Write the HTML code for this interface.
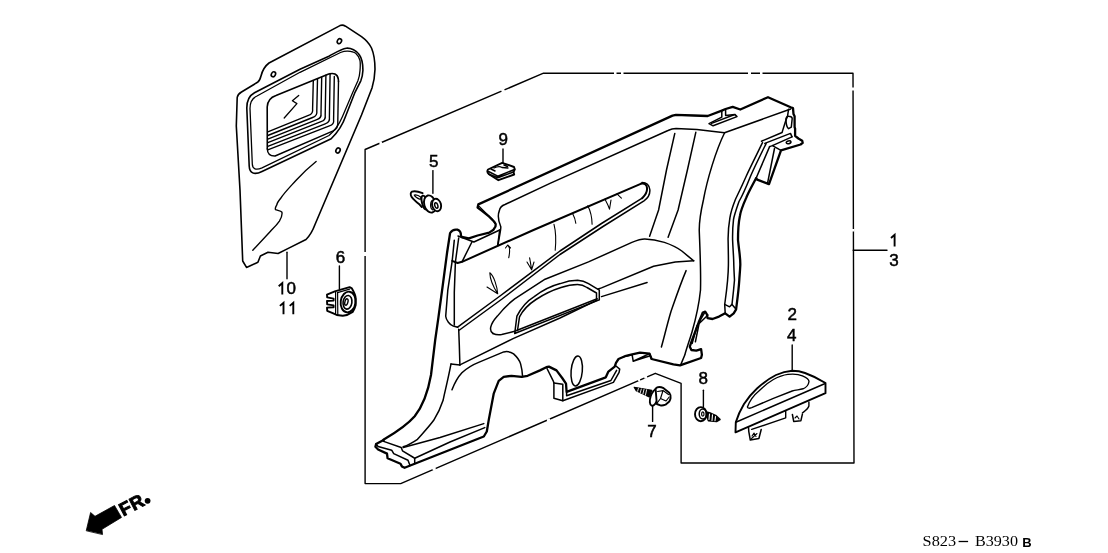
<!DOCTYPE html>
<html><head><meta charset="utf-8"><style>
html,body{margin:0;padding:0;background:#fff;width:1108px;height:553px;overflow:hidden}
svg{display:block;filter:grayscale(1)}
.t{font-family:"Liberation Sans",sans-serif;font-size:17px;fill:#000}
</style></head><body>
<svg width="1108" height="553" viewBox="0 0 1108 553">
<rect width="1108" height="553" fill="#fff"/>
<g fill="none" stroke="#000" stroke-width="1.4" stroke-linejoin="round" stroke-linecap="round">
<!-- FRAME -->
<path id="frame" d="M365.1,483.6 L365.1,149.5 L543.5,73.2 L853,73.2 L854,463 L681.1,463 L681.1,383.4 L655.3,373.3 L400.7,483.6 L365.1,483.6 Z"/>
<path d="M853.2,250.2 L887,250.2"/>
<g stroke="#fff" stroke-width="2.6" stroke-linecap="butt">
<path d="M379.5,143.6 L382,142.5 M501.5,91.2 L504.5,89.9"/>
<path d="M614,73.2 L616.5,73.2 M621,73.2 L623.5,73.2 M748,73.2 L751,73.2 M760,73.2 L762.5,73.2"/>
<path d="M853.2,87.5 L853.2,90.5 M853.2,229 L853.2,231.5 M365.1,252 L365.1,256"/>
<path d="M432.6,469.6 L435.6,468.3 M547,420.6 L550,419.3 M638,380.4 L640,379.5 M644.3,377.7 L647,376.5"/>
</g>
<!-- leaders -->
<path d="M287,252.2 L287,278.8"/>
<path d="M339.4,266 L339.4,289"/>
<path d="M432.9,170.6 L432.9,193.2"/>
<path d="M503,149 L503,163.4"/>
<path d="M652.6,405 L652.6,421.4"/>
<path d="M703.4,390.2 L703.4,406.5"/>
<path d="M792.2,345 L792.2,371"/>
</g>

<!-- TOP LEFT PANEL 10/11 -->
<g fill="none" stroke="#000" stroke-width="1.6" stroke-linejoin="round" stroke-linecap="round">
<path d="M241.5,92 L257.5,82.3 C259.5,81 260,80 261,76 C262.5,70 265,66 269,63 L340,25.6 C342,24.8 343.5,25 345.5,26.2 L361.5,36.7 C366,40 369.5,44 371.5,48 C374,54 375,62 375,69.2 C374.8,77 373.5,83 372,88 L361.5,115 L315,224.5 C313,230 310,235.5 306,239.5 L288.3,248.4 L278.1,253.5 L268,252.2 L260.4,256 L257.9,262.3 L246.5,267.4 L242.7,261 L240,190 L236.3,126 L237.2,97.5 C237.5,95 239,93.5 241.5,92 Z"/>
<ellipse cx="273.4" cy="74.3" rx="2" ry="2.6" transform="rotate(30 273.4 74.3)"/>
<ellipse cx="339.4" cy="41.2" rx="2" ry="2.6" transform="rotate(30 339.4 41.2)"/>
<ellipse cx="338" cy="150.5" rx="2" ry="2.6" transform="rotate(30 338 150.5)"/>
<!-- gasket -->
<path d="M246.8,108 C246.8,100.5 249.5,95.5 254.5,92.8 L300,69.2 L328.9,56.2 C335,53 341,49 346.3,48.2 C351,47.8 356.5,50.5 359.3,54.7 C362,58.5 363,64 362.9,70.6 C362.7,76 361.5,79 360.8,80.8 L355,92.3 L345.7,116 C343,124 338,132 331.2,138.8 L262,171.5 C254,175.5 249.5,173 249.2,166 Z"/>
<path d="M250,108.5 C250,102 252.5,98 257,96 L300,72.3 L340.5,52.5 C343,51.5 345.5,51 347.7,51.1 C351,51.3 354,52 355.7,53.3 C358,55.5 359.5,58 360,60.5 C360.5,64 360.3,67 360,70.6 C359.7,75 359,78 357.9,80.8 L352.8,92.3 L342.5,116.5 C339.5,123.5 335,130.5 329,135.5 L262,167.8 C256,170.5 252.5,169 252.3,164 Z" stroke-width="1.3"/>
<!-- window -->
<path d="M267.3,149 L267.2,107 C267.5,101 270,97.5 276,95.5 L328.7,74 C333.5,72.5 337.5,74 338.3,79 L338.5,81.5"/>
<path d="M267.8,131.9 L308.4,115.4 Q313.4,113.8 312.6,108.8 L313.3,80.8 M267.8,135.5 L312.6,117.5 Q317.6,115.9 316.8,110.9 L317.5,78.9 M267.8,139.1 L316.8,119.6 Q321.8,118.0 321.0,113.0 L321.7,77.1 M267.8,142.7 L321.0,121.7 Q326.0,120.1 325.2,115.1 L325.9,75.2 M267.8,146.3 L325.2,123.8 Q330.2,122.2 329.4,117.2 L330.1,73.4 M267.8,149.9 L329.4,125.9 Q334.4,124.3 333.6,119.3 L334.3,76.5 M267.3,149 Q267.5,156.2 275.1,156 L333.2,130.8 Q338.6,128.4 337.8,121.4 L338.5,81.5" stroke-width="1.4"/>
<path d="M298.7,95.4 L292.4,100.8 L296.9,103.6 L284.2,118" stroke-width="1.3"/>
<path d="M316.1,161.5 C308,168 300,176 295.9,180.5 C290,187 284,193 280.7,198.3 C278.5,201 277,203 276.9,204.6 C275.5,207 275,209 275.6,209.7 C277,210.5 281,210.5 281.9,212.2 C282.5,215 281,218.5 279.4,221.1 C276,226 273,228.5 270.5,231.2 L252.8,250.2" stroke-width="1.4"/>
</g>


<!-- MAIN PANEL -->
<g fill="none" stroke="#000" stroke-width="2.3" stroke-linejoin="round" stroke-linecap="round">
<path id="outer" d="M384.2,439.3 C395,433 408,424 414.7,416.3 C422,407 428,392 431,375 L435.2,340 L438.4,317.6 L442.8,285 L447.1,252.5 L450.1,233 C452,230 455,229.3 457.4,229.7 C459.6,230.4 461,233 461,235.5 L461.7,237 L468.9,238.4 L477.6,235.5 L489.2,232.6 L493.5,229.7 L495.5,226.5 L495.7,224 L494.3,221.8 L489.2,216.7 L482,210.9 L477.6,207.5 L478.3,204.4 L672.5,115.6 L676,114.8 L693.6,115.5 L707.7,116 L721.8,110.6 L725.6,109 L732.7,106.8 L740.3,109.5 L768,97.2 L790.7,107.2 L793,108.1 L793.5,114.1 L794.6,116.3 L794.6,127.1 L795.1,128.7 L795.1,135.8 L798.4,138.5 L802.2,140.7 L802.7,142.9 L800.6,144.5 L781,150.4 L769,184.1 L757.2,179.6 L756.2,178 C752,186 748,193 746.2,197.9 C743,205 740.5,212 739.9,216 C738,225 738,232 738,240 C739,250 740.5,258 740.3,265 C740,272 739.5,276 739.3,280 C738.5,292 737,302 736.1,309.3 L733.7,313.3 L729.6,316.6 L725.2,313.3 L719,316.6 L712.5,319 L707.6,318.2 L706.8,314.1 L705.2,311.7 L702.8,312.5 L701.1,316.6 L698.7,322.3 L691.4,341.8 L689.8,346.7 L691.4,350 L696.3,350.7 L701.1,349.1 L701.9,354.8 L701.1,358 L680,365.4 L673.4,364.4 L651.6,359 L649.5,353.6 L640,352.7 L631.1,354.6 L626.1,355.8 L618.5,359 L616,362.8 L614.7,366.6 L608.4,371.6 L605.8,377.3 L566.6,391.9 L566,383.7 L562.2,378 L556.5,370.4 L548.9,366.6 L546.3,367.2 L540,370.4 L527.6,375.8 L521.6,376.8 L511.6,375.8 L503.7,376.8 L498.7,380.8 L493.7,393.7 L488.8,419.6 L486.8,431.5 L483.8,436.5 L414.7,463.7 L404.6,467.8 L401.9,466.4 L400.5,463.7 L387.6,458.3 L387,453.6 L378.1,449.5 L375.4,446.8 L376.1,444.1 L382.2,440.7 L384.2,439.3 Z"/>
</g>
<g fill="none" stroke="#000" stroke-width="1.5" stroke-linejoin="round" stroke-linecap="round">
<!-- top flange inner line -->
<path d="M497.9,245.6 C499,238 501,230 500.8,226.8 C498,220 498,214 499.3,210.9 C500,207 502,205.5 505,204.5 L550,183.4 L668,130.5 C671,129 674,128.5 676,128.5 L696.9,129.6 L724.5,132.8 L790.7,109"/>
<path d="M788.6,109.2 L787.5,116.3 L785.4,121.7 L782.7,130.4 L782.1,132.5 L761.5,141.2"/>
<path d="M785.9,119 C786.5,117 787.5,116.2 788.6,116.3 C790.5,116.3 792,116.8 792.2,118.5 L791.3,127.1 L788.6,128.7 C787,127.5 786,124 785.9,119 Z"/>
<path d="M764.8,143.4 L790.5,133.4 L792,136.9"/>
<!-- slot top -->
<path d="M721.8,110.6 L721.8,117.1 L709,123.6 L713.1,125.8 L737,116.6 L734.8,114.4 L725.6,115.5 L725.6,109"/>
<path d="M711.5,123.4 L734,114.8"/>
<!-- verticals -->
<path d="M674.8,133.4 L666.5,170 L658.6,210 L649.6,236.2"/>
<path d="M695.8,132.3 L687.4,170 L678.1,210 L668.1,237.3"/>
<path d="M724.5,133 C716,150 707,180 703.4,200 C700,215 699,225 699.3,232 C700,250 701,270 700.5,290 C699,305 696,318 692,332 C689,342 686,350 684.9,354.8 L680.8,364.6"/>
<!-- strip -->
<path d="M762.5,142.7 C755,158 750,168 746.2,176.2 C741,188 737,196 735.3,199.7 C732,208 730.5,214 729.9,217.8 C728.5,226 728,233 728.1,240 C728.3,250 728.5,258 728.4,265 C728.3,280 726,295 724.7,304.4 L725.2,313.3"/>
<path d="M766.1,143.6 C758,160 753,170 749.8,178 C745,190 741,198 739,201.5 C736,210 734,216 733.5,219.6 C732.5,228 732.5,234 732.6,240 C733,250 733.8,258 733.8,265 C734,272 734.3,276 734.5,280 C733.5,292 732.5,300 732,304.4 L729.6,306.8 L724.7,304.4"/>
<path d="M732,304.4 L736.1,309.3"/>
<!-- bracket box -->
<path d="M769.6,146.6 L772.4,145.6 L781,150.4 M772.4,145.6 L792,136.9"/>
<path d="M774.5,148.5 L767.5,183.4"/>
<path d="M769.6,146.6 L756.2,178"/>
<ellipse cx="788.6" cy="142.3" rx="2.4" ry="1.4" transform="rotate(-15 788.6 142.3)"/>
</g>


<!-- left flange & bolster -->
<g fill="none" stroke="#000" stroke-width="1.5" stroke-linejoin="round" stroke-linecap="round">
<path d="M454.3,240.2 L452.2,260.9 L447.8,290.2 L445.7,316.3 C446,320 450,325 453.3,326.1 L457.6,327.2"/>
<path d="M458.7,238 L455.4,262 L454.3,292.4 L454.3,325"/>
<path d="M458.7,329.3 L459.3,345 L459.9,364.9"/>
<path d="M452.2,260.9 L457.6,263 L462,261.8 L533.5,230 L640.7,183.8 C644,182.5 647,184.5 647,188 C647.5,192 645,195.5 642.2,198.2" stroke-width="2"/>
<path d="M462,261.8 L471.9,242"/>
<path d="M479,206.2 L486.3,213.4 L492.1,218.8 L494.8,223.4" stroke-width="1.1"/>
<path d="M458,236 L473.9,242 L499.7,230"/>
<path d="M499.7,230 L497.7,245"/>
<!-- armrest lower double edge -->
<path d="M457.6,327.2 L500,296 L560,251 L601.5,223.5 L642.2,198.2"/>
<path d="M459.5,330 L502,299 L560,254.5 L603,226.5 L644,200.8 C648.5,197.8 650.2,193.5 649.8,189.5 C649.3,185.5 646.5,182.3 642,182.4"/>
<!-- creases -->
<path d="M507.7,245 C510,247 510,252 508.7,257.8 M505.5,248 L507.7,245 L510.5,248" stroke-width="1.1"/>
<path d="M529.6,257.8 C530.5,262 531,266 531.6,269.8 M527,262 L531.6,269.8 L534,262" stroke-width="1.1"/>
<path d="M489.8,272.8 C494,276 497,286 497.7,293.7 C494,288 490,280 489.8,272.8 M487,287 L497.7,293.7" stroke-width="1.1"/>
<path d="M554,224.3 C556,232 556,242 555.2,250.3" stroke-width="1.1"/>
<path d="M572.6,213.4 C574.5,217 575.5,220 575.8,223.2" stroke-width="1.1"/>
<path d="M587.8,205.8 C591,212 592,218 592.1,224.3" stroke-width="1.1"/>
<path d="M605,199.3 C607,203 608.5,206 609.5,209.1 M609.5,209.1 L611,200" stroke-width="1.1"/>
<path d="M617,193.9 L621.4,198.2" stroke-width="1.1"/>
<!-- lower bulge -->
<path d="M493,333.5 C489,331 489.5,325 497.4,316.1 C503,309 508,304 514.7,298.8 L545.1,279.2 L588.5,261.9 L631.9,242.4 C638,240 641,239 644.9,239.1 C652,239.3 658,240.5 664.4,242.4 C672,245 677,247.5 681.8,251 L693.7,260.8"/>
<path d="M693.7,260.8 L675.3,261.9 L653.6,266.2 L601.5,287.9 L598.2,289"/>
<path d="M493,333.5 C496,335 499,335 501.7,334.6 L514.7,331.3 L597.2,298.8"/>
<path d="M601.5,296.6 L647.1,282.5"/>
<path d="M514.7,333.5 L516.9,316.1 C521,308 527,301 534.2,296.6 C543,290 551,286 560.3,283.6 C566,281.5 572,280.3 577.6,280.3 C582,280.5 585,281.5 588.5,283.6 L599.3,290.1 L599.3,299.9 Z"/>
<path d="M517.5,330.5 L519.5,316.8 C523,310 529,304 536,299.5 C545,293.5 553,290 561,287.5 C567,285.5 572,284.5 577.5,284.5 C581,284.5 584,285.5 587,287.5 L596.5,293 L596.5,298.5"/>
<!-- lower region -->
<path d="M459.9,364.9 L513.6,338.4 L560,318 L597.2,300"/>
<path d="M451,363.9 L459.9,364.9"/>
<path d="M451,363.9 C448,380 444,395 443.2,400 C440,410 437,415 433.7,420.3 C428,428 422,434 417.5,439.3 C412,443 407,445.5 403.2,446.8"/>
<path d="M452,389.8 C455,382 458,377 461.9,372.8 C467,368 472,365 479.8,361.9 L503.7,351.9 C508,351 511,352 513.6,353.9 C517,357 519.5,360 520.6,363.9 C521.8,368 522.3,372 522.6,376.8"/>
<!-- foot -->
<path d="M384.2,439.3 L383.6,441.4 L401.2,447.5 L402.5,450.8 L412.7,457 L414.7,458.3 L414.7,463.7"/>
<path d="M376.1,444.1 L378.1,446.5 L391.7,450.2 L393.7,453.6 L408,460.3 L410,465.5"/>
<path d="M403.2,447.5 L440,437.5 L483.8,423.6"/>
<path d="M414.7,458.3 L450,442 L484.8,427.6"/>
<!-- bottom bracket -->
<path d="M547,368.5 L553.3,381.1 L553.9,383 L553.9,398.2 L562.8,400.8 L613.4,382.4 L619.1,372.3 L619.7,369.1 L616,366"/>
<path d="M553.9,383 L562.8,384.3 L562.8,400.8"/>
<path d="M566.6,391.9 L566.6,395.7 L610.9,380.5 L616.6,370.4"/>
<ellipse cx="576.7" cy="371" rx="5.6" ry="15" transform="rotate(5 576.7 371)"/>
<!-- lower right pillar -->
<path d="M686.1,270.6 C680,285 675,300 670.9,311.8 C667,325 664,338 661.4,347"/>
<path d="M704.8,312.3 L699.5,321.5 L695.4,341.8 M708,315 L697.1,325.5 L692.2,343.4"/>
<path d="M623.4,356.8 L632.1,354.7 L633.2,361.2 L649.5,353.6 L651.6,359 M633.2,361.2 C640,359 645,357.5 649.5,356"/>
</g>


<!-- SMALL PARTS -->
<g fill="none" stroke="#000" stroke-width="1.9" stroke-linejoin="round" stroke-linecap="round">
<!-- clip 5 -->
<path d="M422.6,193.2 C418.5,191.6 414.5,190.8 412,191.7 C410.4,192.6 410.3,195 411.6,196.9 C413.6,199.6 416.6,202.2 419.6,204.6 L421.8,207"/>
<path d="M414.3,195.1 C416,194.4 418.6,195.4 421,197.3 C421.2,198.6 420.6,199.4 419.5,199.1 C417,198.1 415,196.9 414.3,195.1 Z" stroke-width="1.3"/>
<ellipse cx="424.6" cy="202.6" rx="2.6" ry="7.2" transform="rotate(-15 424.6 202.6)"/>
<ellipse cx="430" cy="204" rx="5.8" ry="8.8" transform="rotate(-15 430 204)" fill="#fff"/>
<ellipse cx="436.6" cy="205" rx="4.4" ry="6.3" transform="rotate(-15 436.6 205)" fill="#fff"/>
<ellipse cx="436.3" cy="205.5" rx="1.5" ry="2.8" transform="rotate(-15 436.3 205.5)" stroke-width="1.5"/>
<path d="M432.2,200.5 C430.8,201.5 430.5,204 430.8,207 C431,208.5 431.8,209.5 432.6,209.8" stroke-width="1.3"/>
<!-- clip 9 -->
<path d="M502.2,162.8 L488,169.5 C487,171 487.5,173 489,174.3 L498.4,180.2 L514.2,174.5 L513.5,172 L514.8,169.3 L514,167 L502.2,162.8 Z"/>
<path d="M488.5,171.5 L497.8,176.2 L514.5,169.5 M489,174.3 L497.8,177.8 L513.5,172 M491,169 L495,171 M504,165 L507.5,166.5" stroke-width="1.5"/>
<path d="M494,168 C497,166.5 500,166 502,167.5 L508,168" stroke-width="1.3"/>
<!-- grommet 6 -->
<path d="M334.8,291.4 L349.6,287.2 L351.9,288.4 C354,292 355.7,295 355.7,298.2 L355.7,305.1 C355,308 354,310 352.7,311.9 C349,314.5 346,315.5 342.8,315.7 L336.7,315 L333.3,313.4 L327.2,310.8 L327,307.6 L333.6,307.2 L333.6,305.4 L327.2,304.4 L327,301 L333.6,300.6 L333.6,298.6 L327.2,297.4 L327,294.6 Z"/>
<path d="M335.6,292 L335.6,314 M337.6,292.3 L337.8,314.6" stroke-width="1.2"/>
<path d="M337.5,292.6 L349.6,289.1" stroke-width="1.2"/>
<ellipse cx="348.1" cy="302" rx="7.4" ry="10.4" transform="rotate(8 348.1 302)"/>
<ellipse cx="347.5" cy="302.3" rx="4.4" ry="6.9" transform="rotate(8 347.5 302.3)" stroke-width="1.6"/>
<ellipse cx="346.4" cy="302" rx="1.5" ry="3.3" transform="rotate(15 346.4 302)" stroke-width="1.4"/>
<!-- bolt 7 -->
<path d="M634.2,387.3 L651.8,390.3 L649.3,397 L636.2,390.6 Z" fill="#000" stroke-width="1.2"/>
<path d="M638.4,388.5 L637.6,391.2 M641.3,389 L640.3,392.6 M644,389.4 L642.9,394 M646.6,389.8 L645.4,395.2" stroke="#fff" stroke-width="0.9"/>
<ellipse cx="654.3" cy="397.4" rx="3.8" ry="8.6" transform="rotate(18 654.3 397.4)" fill="#fff"/>
<path d="M655.6,388.6 C657,387 660,386.4 663.6,388.2 L669.3,392.7 C670.6,394.5 670.9,396.5 670.6,398 C670.2,400 669.5,401.2 669.3,401.5 L665.5,404.7 C663,405.6 661,405.5 660.4,405.3 L656.8,404 Z" fill="#fff"/>
<path d="M657.6,391.5 L663,390.6 L668.5,394.5 M663,390.6 L660.5,398.5 L657.5,402.5 M660.5,398.5 L666,401 L669.2,397" stroke-width="1.2"/>
<!-- bolt 8 -->
<path d="M705.5,412 L711,413.5 L715.5,415.5 L719.8,419.5 L716.5,421.3 L708.5,420.5 Z" fill="#000"/>
<path d="M709.5,414 L709,419.5 M712.5,414.8 L712,420.5 M715.5,416.5 L715,420.8" stroke="#fff" stroke-width="1.1"/>
<ellipse cx="700.8" cy="414.2" rx="5.8" ry="7.1" fill="#fff"/>
<ellipse cx="702.8" cy="414" rx="3.6" ry="5" stroke-width="1.5"/>
<ellipse cx="702.8" cy="414" rx="1.2" ry="2.2" stroke-width="1.2"/>
<!-- cover 2/4 -->
<path d="M735.5,432.3 L735.8,422.2 C738,415 741,409 744,404 C748,398 752,393 757,388.5 C763,383 770,378 776,375 C781,372.8 786,371.3 792.2,370.8 C797,370.8 801,371.5 805,373 C812,375.5 819,379 825.5,383 L825.5,393.2 L735.5,432.3 Z" fill="#fff"/>
<path d="M735.8,422.2 L824.6,383.8" stroke-width="1.5"/>
<path d="M747.4,407 C750,400 754,395 758.9,391 C764,386 769,382 773.4,379.5 C778,377 783,375 787.9,374.4 C794,373.8 799,374.3 802.4,375.9 C806,377.5 809,379 809,381.5 C808.5,385 806.5,387.5 803,388.8 C799,389.8 795.5,390 792.2,391 L773.4,398.3 L751.7,407.7 C749.5,408.5 747.6,408.3 747.4,407 Z" stroke-width="1.4"/>
<path d="M748.5,427.5 L748.8,431.6 L750.3,440 L758.9,438.5 L761.2,429.5" stroke-width="1.5"/>
<path d="M752,436 L754,433 L756,436.5 M751.5,438.5 L757,433.5" stroke-width="1.1"/>
<path d="M751.7,429.4 L785.7,417.8 L785.7,411.3 M808.9,402 L808.9,406 C808,409 805,411 802.4,413" stroke-width="1.4"/>
<path d="M792.4,414.5 L793.7,421.4 L800.9,420.7 L802.4,414.2" stroke-width="1.5"/>
<path d="M795,418 L797,416 L799,419" stroke-width="1.1"/>
<!-- FR arrow -->
<path d="M86.3,530.4 L90.6,512.5 L95,516.3 L114.5,505.5 L121.5,517.4 L102,529.3 L102.5,534.2 Z" fill="#000" stroke-width="0.8"/>
</g>
<text x="0" y="0" transform="translate(123.3,516.6) rotate(-27.5)" style="font-family:'Liberation Sans',sans-serif;font-weight:bold;font-size:18.5px;letter-spacing:0.6px" fill="#000" stroke="#000" stroke-width="0.9">FR</text>
<circle cx="147.6" cy="500.8" r="2.9" fill="#000"/>

<!-- LABELS -->
<g class="t" stroke="#000" stroke-width="0.5">
<text x="894" y="266.0" text-anchor="middle">3</text>
<text x="291.3" y="293.9" text-anchor="middle">0</text>
<text x="340.4" y="263.2" text-anchor="middle">6</text>
<text x="433.7" y="167.2" text-anchor="middle">5</text>
<text x="503.2" y="144.8" text-anchor="middle">9</text>
<text x="792.3" y="320.3" text-anchor="middle">2</text>
<text x="791.7" y="341.1" text-anchor="middle">4</text>
<text x="652" y="436.9" text-anchor="middle">7</text>
<text x="703.3" y="383.9" text-anchor="middle">8</text>
</g>
<g fill="none" stroke="#000" stroke-width="1.9" stroke-linecap="butt" stroke-linejoin="miter">
<path d="M894.6,246.4 L894.6,234.9 L891,238"/>
<path d="M282.3,294.6 L282.3,283.1 L278.7,286.2"/>
<path d="M283.5,314.3 L283.5,302.8 L279.9,305.9"/>
<path d="M293.3,314.3 L293.3,302.8 L289.7,305.9"/>
</g>
<g style="font-family:'Liberation Serif',serif;font-size:15.5px" fill="#000">
<text x="922.6" y="546" textLength="33.5" lengthAdjust="spacingAndGlyphs">S823</text>
<text x="975" y="546" textLength="43" lengthAdjust="spacingAndGlyphs">B3930</text>
</g>
<path d="M958.6,541.5 L968.1,541.5" stroke="#000" stroke-width="1.3"/>
<text x="1022.3" y="547.2" style="font-family:'Liberation Sans',sans-serif;font-size:13px;font-weight:bold" fill="#000">B</text>
</svg>
</body></html>
